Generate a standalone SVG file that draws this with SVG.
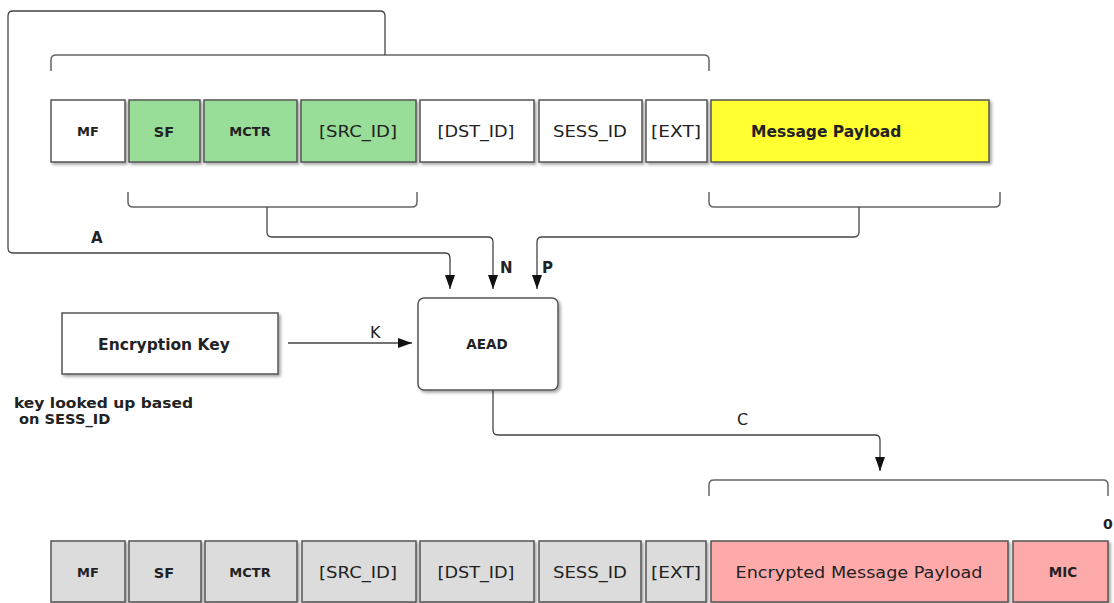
<svg xmlns="http://www.w3.org/2000/svg" width="1114" height="603" viewBox="0 0 1114 603">
<defs>
<filter id="sh" x="-10%" y="-10%" width="130%" height="140%">
<feDropShadow dx="2" dy="2" stdDeviation="1.5" flood-color="#000" flood-opacity="0.35"/>
</filter>
<marker id="ah" markerWidth="14" markerHeight="10" refX="14" refY="5" orient="auto" markerUnits="userSpaceOnUse">
<path d="M0,0 L14,5 L0,10 z" fill="#111"/>
</marker>
</defs>
<style>
.box{stroke:#555;stroke-width:1.5;filter:url(#sh)}
.w{fill:#fff}.g{fill:#98dd98}.y{fill:#ffff33}.p{fill:#ffaaaa}.gr{fill:#dcdcdc}
.ln{fill:none;stroke:#666;stroke-width:1.5}
.ar{fill:none;stroke:#444;stroke-width:1.3;marker-end:url(#ah)}
text{font-family:"DejaVu Sans","Liberation Sans",sans-serif;fill:#222}
.b{font-weight:bold}
.r{font-size:16px}
.c{text-anchor:middle}
</style>
<g id="connectors">
<path class="ln" d="M51,71 V60 Q51,55 56,55 H704 Q709,55 709,60 V71"/>
<path class="ar" d="M385,55 V16 Q385,11 380,11 H13 Q8,11 8,16 V248 Q8,253 13,253 H445 Q450,253 450,258 V289"/>
<path class="ln" d="M128,192 V202 Q128,207 133,207 H412 Q417,207 417,202 V192"/>
<path class="ar" d="M267,207 V232 Q267,237 272,237 H488 Q493,237 493,242 V289"/>
<path class="ln" d="M709,192 V202 Q709,207 714,207 H995 Q1000,207 1000,202 V192"/>
<path class="ar" d="M859,207 V232 Q859,237 854,237 H542 Q537,237 537,242 V289"/>
<path class="ar" d="M288,343 H412"/>
<path class="ar" d="M493,390 V430 Q493,435 498,435 H875 Q880,435 880,440 V471"/>
<path class="ln" d="M709,496 V485 Q709,480 714,480 H1103 Q1108,480 1108,485 V496"/>
<text class="b" x="91" y="243" font-size="15">A</text>
<text class="b" x="500" y="273" font-size="15">N</text>
<text class="b" x="542" y="273" font-size="15">P</text>
<text x="370" y="338" font-size="16">K</text>
<text x="737" y="425" font-size="16">C</text>
<text class="b" x="1103" y="529" font-size="14">0</text>
</g>
<g id="top-MF"><rect class="box w" x="51" y="100" width="74" height="62"/><text class="b c" x="88" y="136" font-size="13">MF</text></g>
<g id="top-SF"><rect class="box g" x="129" y="100" width="71" height="62"/><text class="b c" x="164" y="137" font-size="14.5">SF</text></g>
<g id="top-MCTR"><rect class="box g" x="204" y="100" width="93" height="62"/><text class="b c" x="250" y="136" font-size="13">MCTR</text></g>
<g id="top-SRC"><rect class="box g" x="301" y="100" width="115" height="62"/><text class="r c" x="358" y="137" textLength="78" lengthAdjust="spacingAndGlyphs">[SRC_ID]</text></g>
<g id="top-DST"><rect class="box w" x="420" y="100" width="114" height="62"/><text class="r c" x="476" y="137" textLength="77" lengthAdjust="spacingAndGlyphs">[DST_ID]</text></g>
<g id="top-SESS"><rect class="box w" x="539" y="100" width="103" height="62"/><text class="r c" x="590" y="137" textLength="74" lengthAdjust="spacingAndGlyphs">SESS_ID</text></g>
<g id="top-EXT"><rect class="box w" x="646" y="100" width="61" height="62"/><text class="r c" x="676" y="137" textLength="50" lengthAdjust="spacingAndGlyphs">[EXT]</text></g>
<g id="top-payload"><rect class="box y" x="711" y="100" width="278" height="62"/><text class="b" x="751" y="137" font-size="15.5">Message Payload</text></g>
<g id="enc-key"><rect class="box w" x="62" y="313" width="216" height="61"/><text class="b c" x="164" y="350" font-size="15.5">Encryption Key</text></g>
<g id="note"><text class="b" x="14" y="408" font-size="14.6" textLength="179" lengthAdjust="spacingAndGlyphs">key looked up based</text><text class="b" x="14" y="424" font-size="14.6" xml:space="preserve"> on SESS_ID</text></g>
<g id="aead"><rect class="box w" x="418" y="298" width="140" height="92" rx="6"/><text class="b c" x="487" y="349" font-size="13.5">AEAD</text></g>
<g id="bot-MF"><rect class="box gr" x="51" y="541" width="74" height="61"/><text class="b c" x="88" y="577" font-size="13">MF</text></g>
<g id="bot-SF"><rect class="box gr" x="129" y="541" width="72" height="61"/><text class="b c" x="164" y="578" font-size="14.5">SF</text></g>
<g id="bot-MCTR"><rect class="box gr" x="205" y="541" width="92" height="61"/><text class="b c" x="250" y="577" font-size="13">MCTR</text></g>
<g id="bot-SRC"><rect class="box gr" x="302" y="541" width="114" height="61"/><text class="r c" x="358" y="578" textLength="78" lengthAdjust="spacingAndGlyphs">[SRC_ID]</text></g>
<g id="bot-DST"><rect class="box gr" x="420" y="541" width="114" height="61"/><text class="r c" x="476" y="578" textLength="77" lengthAdjust="spacingAndGlyphs">[DST_ID]</text></g>
<g id="bot-SESS"><rect class="box gr" x="539" y="541" width="102" height="61"/><text class="r c" x="590" y="578" textLength="74" lengthAdjust="spacingAndGlyphs">SESS_ID</text></g>
<g id="bot-EXT"><rect class="box gr" x="646" y="541" width="60" height="61"/><text class="r c" x="676" y="578" textLength="50" lengthAdjust="spacingAndGlyphs">[EXT]</text></g>
<g id="bot-enc"><rect class="box p" x="711" y="541" width="297" height="61"/><text class="r c" x="859" y="578" textLength="247" lengthAdjust="spacingAndGlyphs">Encrypted Message Payload</text></g>
<g id="bot-MIC"><rect class="box p" x="1013" y="541" width="95" height="61"/><text class="b c" x="1063" y="577" font-size="13.5">MIC</text></g>
</svg>
